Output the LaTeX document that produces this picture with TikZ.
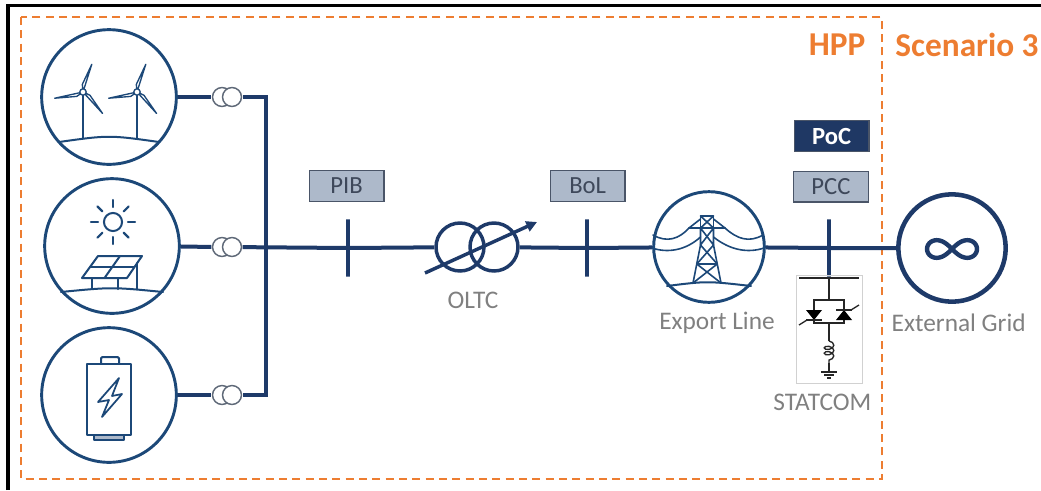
\documentclass[tikz,border=0pt]{standalone}
\usepackage{fontspec}
\setmainfont{Carlito}
\usetikzlibrary{arrows.meta, decorations.pathmorphing}

\definecolor{busblue}{RGB}{30,58,105}
\definecolor{iconblue}{RGB}{28,72,120}
\definecolor{tagfill}{RGB}{173,185,202}
\definecolor{tagline}{RGB}{74,85,104}
\definecolor{tagtext}{RGB}{62,72,90}
\definecolor{pocfill}{RGB}{31,56,100}
\definecolor{hppor}{RGB}{237,125,49}
\definecolor{lblgray}{RGB}{128,128,128}
\definecolor{ctgray}{RGB}{95,105,120}

\tikzstyle{source} = [circle, draw=iconblue, line width=2.2pt, minimum size=101pt, inner sep=0pt]
\tikzstyle{gridsrc} = [circle, draw=busblue, line width=3.4pt, minimum size=80.5pt, inner sep=0pt]
\tikzstyle{ct} = [rectangle, minimum width=23pt, minimum height=15pt, inner sep=0pt]
\tikzstyle{ctring} = [draw=ctgray, line width=1.1pt]
\tikzstyle{bus} = [draw=busblue, line width=3pt, line join=miter]
\tikzstyle{busbar} = [rectangle, draw=busblue, line width=2.6pt, minimum width=0pt, minimum height=43pt, inner sep=0pt]
\tikzstyle{xfmrbox} = [rectangle, minimum width=64pt, minimum height=36pt, inner sep=0pt]
\tikzstyle{xfmr} = [draw=busblue, line width=2.6pt]
\tikzstyle{tag} = [rectangle, draw=tagline, line width=0.9pt, fill=tagfill, text=tagtext, minimum width=56pt, minimum height=23pt, inner sep=0pt, font=\fontsize{18.5}{20}\selectfont]
\tikzstyle{poc} = [tag, fill=pocfill, text=white, font=\fontsize{18.5}{20}\selectfont\bfseries]
\tikzstyle{lbl} = [text=lblgray, font=\fontsize{19}{21}\selectfont]
\tikzstyle{hpptext} = [text=hppor, font=\fontsize{25}{28}\selectfont\bfseries]
\tikzstyle{hppbox} = [draw=hppor, line width=1.6pt, dash pattern=on 6pt off 4pt]
\tikzstyle{icon} = [draw=iconblue, line width=1.5pt, line cap=round, line join=round]
\tikzstyle{pylon} = [icon, line width=1.2pt]
\tikzstyle{statcom} = [rectangle, draw=black!18, line width=0.7pt, minimum width=49.5pt, minimum height=81pt, inner sep=0pt]
\tikzstyle{stline} = [draw=black!85, line width=1pt]

\begin{document}
\begin{tikzpicture}[x=0.75pt, y=-0.75pt]
\useasboundingbox (0,0) rectangle (1041,490);

% frame and plant boundary
\draw[line width=2.3pt] (8,490) -- (8,5.5) -- (1041,5.5);
\draw[hppbox] (21,17) rectangle (882,479);
\node[hpptext] (hpp) at (837,45) {HPP};
\node[hpptext] (scen) at (967,45) {Scenario 3};

% units
\node[source] (wind) at (109,97) {};
\node[source] (solar) at (112,246) {};
\node[source] (batt) at (109,395) {};

\node[ct] (ctw) at (227,97) {};
\node[ct] (cts) at (227,247) {};
\node[ct] (ctb) at (227,395) {};
\coordinate (coltop) at (266,97);
\coordinate (colbot) at (266,395);

% buses and equipment
\node[busbar] (pib) at (348,248) {};
\node[xfmrbox] (oltc) at (477,247) {};
\node[busbar] (bol) at (587,248) {};
\node[source, minimum size=83pt] (exl) at (709,247) {};
\node[busbar] (pcc) at (829,248) {};
\node[gridsrc] (grid) at (952,248) {};
\node[statcom] (stc) at (829,329) {};

% tags
\node[tag, above of=pib, node distance=46.5pt, xshift=-1pt] (pibtag) {PIB};
\node[tag, above of=bol, node distance=46.5pt, xshift=0.5pt] (boltag) {BoL};
\node[tag, above of=pcc, node distance=46pt, xshift=1.5pt] (pcctag) {PCC};
\node[poc, above of=pcctag, node distance=38pt, xshift=0.5pt] (poctag) {PoC};

% labels
\node[lbl, below of=oltc, node distance=40pt, xshift=-3pt] (oltclbl) {OLTC};
\node[lbl, below of=exl, node distance=57pt, xshift=6pt] (exllbl) {Export Line};
\node[lbl, below of=grid, node distance=56pt, xshift=5pt] (gridlbl) {External Grid};
\node[lbl, below of=stc, node distance=55pt, xshift=-5pt] (stclbl) {STATCOM};

% collector and main line
\draw[bus] (wind) -- (ctw);
\draw[bus] (solar) -- (cts);
\draw[bus] (batt) -- (ctb);
\draw[bus] (ctw) -- (coltop) -- (colbot) -- (ctb);
\draw[bus] (cts) -- (pib) -- (oltc);
\draw[bus] (oltc) -- (bol) -- (exl);
\draw[bus] (exl) -- (pcc) -- (grid);

\foreach \c in {ctw,cts,ctb}{
  \draw[ctring, fill=white] ([xshift=-3.75pt]\c.center) circle (7.1pt);
  \draw[ctring, fill=white] ([xshift=3.75pt]\c.center) circle (7.1pt);
}

% on-load tap changer
\begin{scope}[shift={(oltc.center)}]
  \draw[xfmr] (-17,0) circle (18pt);
  \draw[xfmr] (17,0) circle (18pt);
  \draw[xfmr, -{Triangle[length=8pt,width=8pt]}] (-52,26) -- (60,-25);
\end{scope}

% wind farm
\begin{scope}[shift={(wind.center)}]
  \foreach \hx in {-26,28}{
    \draw[icon, line width=1.3pt] (\hx,-5) -- (\hx,41);
    \foreach \a in {72,192,312}
      \draw[icon, line width=1pt, fill=white, rotate around={\a:(\hx,-5)}]
        (\hx,-5) -- ++(7,-3) -- ++(22,2.8) -- cycle;
    \draw[icon, line width=1pt, fill=white] (\hx,-5) circle (2.4pt);
  }
  \draw[icon] (-50,45) .. controls (0,38) .. (50,45);
\end{scope}

% solar plant
\begin{scope}[shift={(solar.center)}]
  \draw[icon] (1,-24) circle (6.8pt);
  \foreach \a in {0,45,...,315}
    \draw[icon, line width=1.6pt] (1,-24) ++(\a:15) -- ++(\a:7);
  \draw[icon] (-14,10) -- (30,10) -- (15,32) -- (-30,32) -- cycle;
  \draw[icon] (-22,21) -- (22.5,21);
  \draw[icon] (8,10) -- (-7.5,32);
  \draw[icon] (-20,32) -- (-20,43);
  \draw[icon] (6,32) -- (6,43);
  \draw[icon] (25,17) -- (25,43);
  \draw[icon] (-51,46) .. controls (0,41) .. (51,46);
\end{scope}

% battery storage
\begin{scope}[shift={(batt.center)}]
  \draw[icon, rounded corners=1pt] (-8,-31) -- (-8,-38) -- (10,-38) -- (10,-31);
  \draw[icon, fill=tagfill] (-15,40) rectangle (15,45);
  \draw[icon, fill=white] (-22,-31) rectangle (22,40);
  \draw[icon, line width=1.3pt] (10,-17) -- (-11,7) -- (0,5) -- (-7,22) -- (13,-1) -- (3,1) -- cycle;
\end{scope}

% transmission tower
\begin{scope}[shift={(exl.center)}, xshift=-1.5pt]
  \draw[pylon] (-6.5,-31) rectangle (6.5,-19);
  \draw[pylon] (-6.5,-31) -- (6.5,-19) (6.5,-31) -- (-6.5,-19);
  \draw[pylon] (-18,-19) -- (18,-19);
  \draw[pylon] (-18,-19) -- (-6.5,-28) (18,-19) -- (6.5,-28);
  \draw[pylon] (-6.5,-19) -- (-6.5,-2) -- (6.5,-19) -- (6.5,-2) -- cycle;
  \draw[pylon] (-6.5,-2) -- (-14,36) (6.5,-2) -- (14,36);
  \draw[pylon] (-6.5,-2) -- (10.2,17) -- (-10.2,17) -- (6.5,-2);
  \draw[pylon] (-10.2,17) -- (14,36) (10.2,17) -- (-14,36);
  \draw[pylon] (-54,-12) .. controls (-40,-4) and (-28,-8) .. (-18,-19);
  \draw[pylon] (56,-12) .. controls (42,-4) and (30,-8) .. (18,-19);
  \draw[pylon] (-55,1) .. controls (-40,6) and (-22,4) .. (-6.5,-10);
  \draw[pylon] (57,1) .. controls (42,6) and (24,4) .. (6.5,-10);
  \draw[icon] (-40,39) .. controls (0,34) .. (44,39);
\end{scope}

% external grid
\begin{scope}[shift={(grid.center)}]
  \draw[draw=busblue, line width=3.3pt]
    plot[domain=0:355, samples=72, smooth cycle]
    ({25*cos(\x)/(1+(sin(\x))^2)}, {1+25*sin(\x)*cos(\x)/(1+(sin(\x))^2)});
\end{scope}

% statcom
\begin{scope}[shift={(stc.center)}]
  \draw[stline] (-30,-51) -- (30,-51);
  \draw[stline] (0,-51) -- (0,-29);
  \draw[stline] (-15,-29) rectangle (15,-6);
  \fill[black] (-23,-19) -- (-7,-19) -- (-15,-9) -- cycle;
  \draw[stline] (-23,-9) -- (-7,-9);
  \draw[stline] (-22,-9) -- (-30,-4);
  \fill[black] (7,-9) -- (23,-9) -- (15,-19) -- cycle;
  \draw[stline] (7,-19) -- (23,-19);
  \draw[stline] (22,-19) -- (30,-24);
  \draw[stline] (0,-6) -- (0,12);
  \draw[stline, decorate, decoration={coil, amplitude=3.6pt, segment length=4pt, aspect=0.6}] (0,12) -- (0,34);
  \draw[stline] (0,34) -- (0,43);
  \draw[stline] (-8,43) -- (8,43);
  \draw[stline] (-5,46) -- (5,46);
  \draw[stline] (-2,49) -- (2,49);
\end{scope}

\end{tikzpicture}
\end{document}
